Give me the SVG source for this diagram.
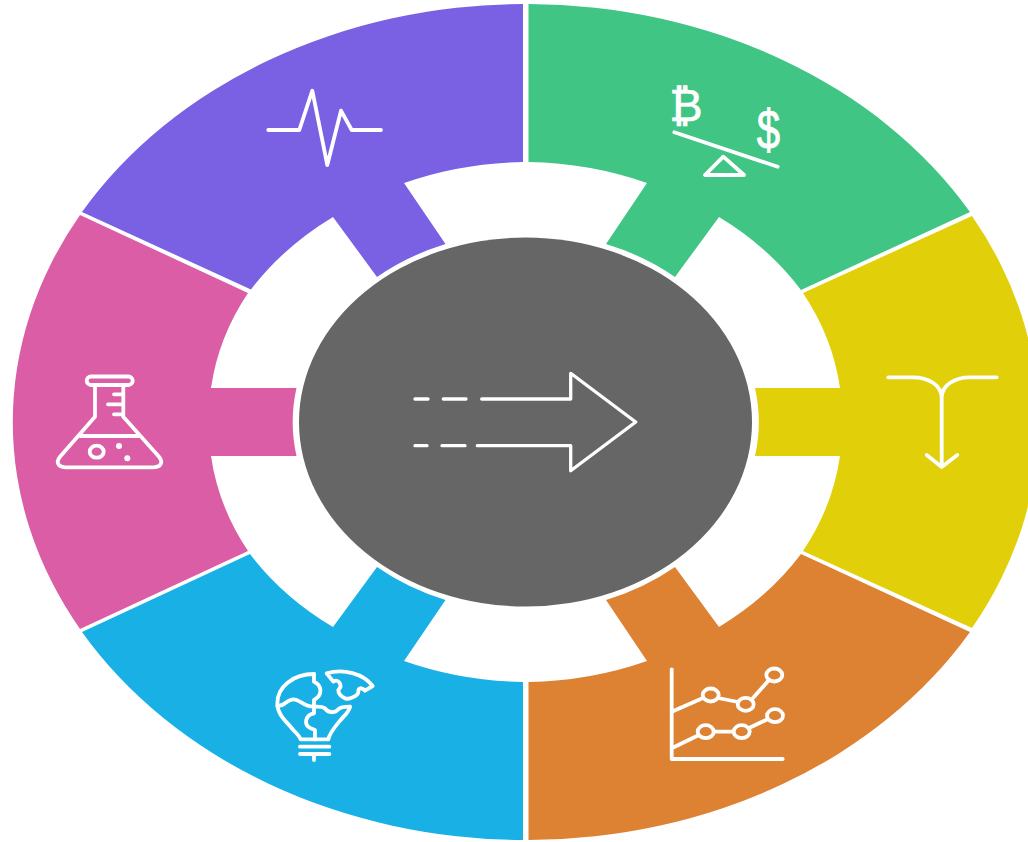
<svg xmlns="http://www.w3.org/2000/svg" width="1028" height="842" viewBox="0 0 1028 842">
<style>
.i{fill:none;stroke:#fff;stroke-width:3.800;stroke-linecap:round;stroke-linejoin:round}
.t{fill:#fff;stroke:#fff;stroke-width:.7;font-family:"Liberation Sans",Arial,sans-serif}
</style>
<rect width="1028" height="842" fill="#fff"/>
<g id="seg-purple">
<path fill="#7A60E2" d="M523 4A513.5 418.5 0 0 0 82 212L251 289.500A317 260 0 0 1 333 217L377 277A231.500 188.500 0 0 1 445.500 244L404 183A317 260 0 0 1 523 162Z"/>
<path class="i" d="M268.300 130H299.300L312.300 90.700L327.300 165L341 110.700L351.700 130H381"/>
</g>
<g id="seg-green">
<path fill="#40C584" d="M528.500 4A513.500 418.500 0 0 1 970 212L801 290A317 260 0 0 0 719 217L675 277A231.500 188.500 0 0 0 606 244L647 183A317 260 0 0 0 528.500 162Z"/>
<text class="t" x="686" y="121" font-size="45" text-anchor="middle">₿</text>
<text class="t" transform="translate(768.500 149) scale(1 1.300)" font-size="42" text-anchor="middle">$</text>
<path class="i" d="M674.300 132.300L777.700 166.700M723.300 156.700L705 175H744Z"/>
</g>
<g id="seg-yellow">
<path fill="#E1CF09" d="M972 216A513.500 418.500 0 0 1 972 628L803 551A317 260 0 0 0 840 456H755A231.500 188.500 0 0 0 755 388H840A317 260 0 0 0 803 293Z"/>
<path class="i" d="M888.300 377.300H913C928 377.300 941.700 385 941.700 398C941.700 385 955 377.300 970 377.300H996.700M941.700 395V466.700M926.700 455L941.700 467L957.300 455"/>
</g>
<g id="seg-orange">
<path fill="#DD8232" d="M528.500 840A513.500 418.500 0 0 0 970 632L801 554A317 260 0 0 1 719 627L675 567A231.500 188.500 0 0 1 606 600L647 661A317 260 0 0 1 528.500 682Z"/>
<path class="i" d="M671.700 669.300V759H782.700M671.700 711.700L703 698M718 698L738 702M753 698L769 680M671.700 748.300L699 735M714 731.700H733M749 728L768 719"/>
<ellipse class="i" cx="710.700" cy="695" rx="8" ry="6.500"/>
<ellipse class="i" cx="745.700" cy="704.300" rx="8" ry="6.500"/>
<ellipse class="i" cx="774.300" cy="675" rx="8" ry="6.500"/>
<ellipse class="i" cx="705.700" cy="731.700" rx="8" ry="6.500"/>
<ellipse class="i" cx="741.700" cy="731.700" rx="8" ry="6.500"/>
<ellipse class="i" cx="775" cy="715.700" rx="8" ry="6.500"/>
</g>
<g id="seg-blue">
<path fill="#18B0E5" d="M523 840A513.500 418.500 0 0 1 82 632L250 554A317 260 0 0 0 333 627L377 567A231.500 188.500 0 0 0 445.500 600L404 661A317 260 0 0 0 523 682Z"/>
<g transform="translate(250 650) scale(.3333)" class="i" style="stroke-width:11.500">
<path d="M192 72C130 72 82 110 82 160C82 195 110 215 130 240C145 255 150 262 152 268H235C238 250 255 230 270 212C285 195 298 185 300 170"/>
<path d="M82 168C105 170 110 148 130 148C150 148 160 170 190 170C205 170 215 168 225 175C235 190 255 190 265 178C272 170 290 170 300 170"/>
<path d="M192 72V95C215 105 220 135 192 150V190C165 195 160 225 182 235L195 240V268"/>
<path d="M230 70C280 55 340 70 368 108L345 122C335 112 325 112 325 125C325 140 290 150 285 145C275 140 265 130 265 120C280 105 265 85 250 95Z"/>
<path d="M150 290H238M150 312H238M192 312V330"/>
</g>
</g>
<g id="seg-pink">
<path fill="#DA5DA5" d="M80 215A513.500 418.500 0 0 0 80 629L248 551A317 260 0 0 1 211 456H296.500A231.500 188.500 0 0 1 296.500 388H211A317 260 0 0 1 248 293Z"/>
<rect class="i" x="86.700" y="376.500" width="46" height="8.500" rx="4.200"/>
<path class="i" d="M95 385V416.700L60 456.700C55 463 59 467.300 66 467.300H153C160 467.300 164 463 159 456.700L123.300 416.700V385M80 436H139M114 394.300H123M108 404.300H123M114 414.300H123"/>
<ellipse class="i" cx="96.700" cy="451.700" rx="7" ry="6"/>
<circle cx="119" cy="446" r="3" fill="#fff"/>
<circle cx="127.300" cy="458.300" r="3" fill="#fff"/>
</g>
<g id="hub">
<ellipse cx="525.500" cy="422" rx="226.500" ry="184.500" fill="#666"/>
<path class="i" d="M481.700 399H570.700V373.300L635.700 422L570.700 470.700V445.700H477.300M415 399H428M443.300 399H466M415 445.700H427M442 445.700H465" style="stroke-width:3.300"/>
</g>
</svg>
